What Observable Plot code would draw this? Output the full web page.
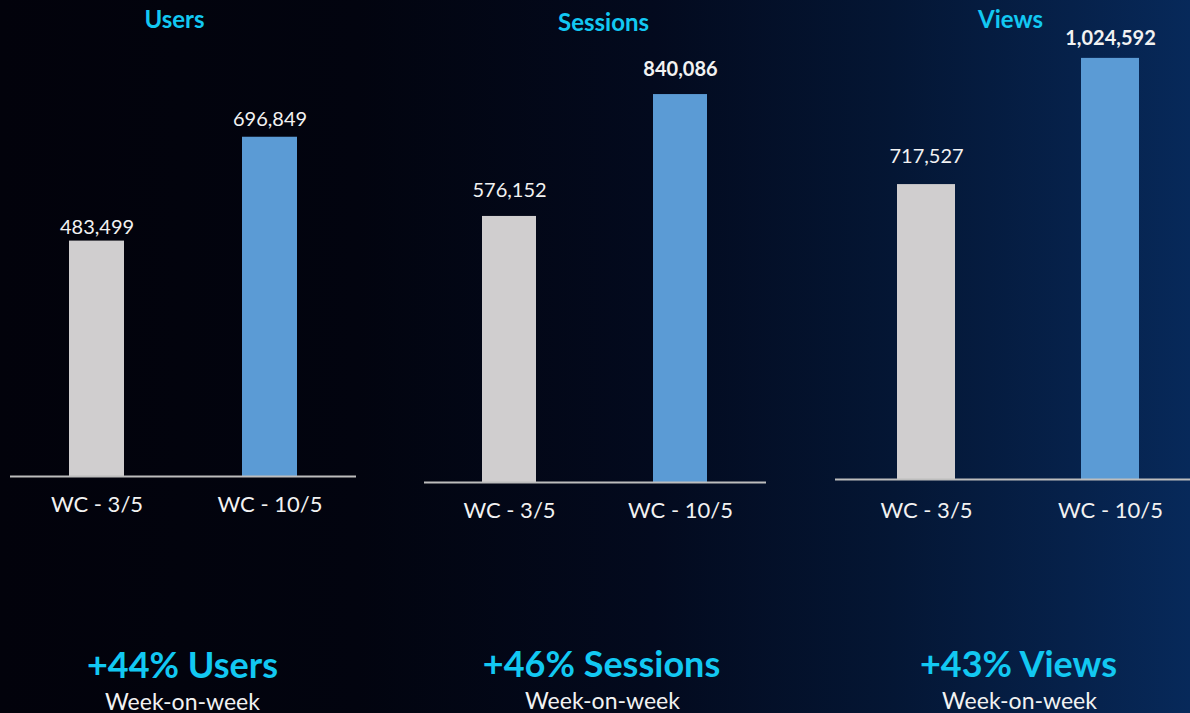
<!DOCTYPE html>
<html>
<head>
<meta charset="utf-8">
<script src="https://cdn.jsdelivr.net/npm/d3@7"></script>
<script src="https://cdn.jsdelivr.net/npm/@observablehq/plot@0.6"></script>
<style>
html, body { margin: 0; padding: 0; }
body {
  width: 1190px; height: 713px; overflow: hidden;
  background: linear-gradient(90deg, #02020b 0%, #02040f 30%, #030a1e 55%, #041634 75%, #06214a 90%, #07295a 100%);
}
#wrap { position: relative; width: 1190px; height: 713px; }
#wrap svg { position: absolute; left: 0; top: 0; }
</style>
</head>
<body>
<div id="wrap"></div>
<script>
// ---- data ----
const weeks = ["WC - 3/5", "WC - 10/5"];
const metrics = ["Users", "Sessions", "Views"];
const usersValues = [483499, 696849];
const sessionsValues = [576152, 840086];
const viewsValues = [717527, 1024592];
const growthLabels = ["+44% Users", "+46% Sessions", "+43% Views"];
const subLabel = "Week-on-week";

// ---- layout (page coordinates) ----
const W = 1190, H = 713;
const layout = [
  {values: usersValues, left: 10, right: 356, baseline: 476, yMax: 977700,
   pi: 0.682, po: 0.341, align: 0.5, gaps: [7, 11], bold: [false, false],
   titleX: 174, titleY: 27, axisPad: 19.5, growthX: 182, growthY: 677, subX: 182, subY: 709},
  {values: sessionsValues, left: 424, right: 766, baseline: 482, yMax: 1043770,
   pi: 0.684, po: 0.342, align: 0.5, gaps: [19, 19], bold: [false, true],
   titleX: 603, titleY: 30, axisPad: 19.5, growthX: 601, growthY: 676, subX: 602, subY: 708},
  {values: viewsValues, left: 835, right: 1190, baseline: 479, yMax: 1165400,
   pi: 0.685, po: 0.307, align: 0.549, gaps: [22, 13], bold: [false, true],
   titleX: 1010, titleY: 27, axisPad: 23, growthX: 1018, growthY: 676, subX: 1019, subY: 708}
];

const gray = "#d0cecf", blue = "#5b9bd5", cyan = "#12c8f2", white = "#f2f2f2";
const fmt = d3.format(",");
const wrap = document.getElementById("wrap");

layout.forEach((p, k) => {
  const table = weeks.map((w, i) => ({week: w, value: p.values[i]}));
  const frameCenter = (p.left + p.right) / 2;
  const valueMarks = table.map((d, i) => Plot.text([d], {
    x: "week", y: "value", text: r => fmt(r.value),
    lineAnchor: "bottom", dy: -p.gaps[i], fontSize: 20,
    fontWeight: p.bold[i] ? 700 : 400, fill: white
  }));
  const chart = Plot.plot({
    width: W, height: H,
    marginLeft: p.left, marginRight: W - p.right,
    marginTop: 0, marginBottom: H - p.baseline,
    style: {background: "transparent", fontFamily: "Lato, 'Open Sans', sans-serif", overflow: "visible"},
    x: {domain: weeks, paddingInner: p.pi, paddingOuter: p.po, align: p.align, label: null},
    y: {domain: [0, p.yMax], axis: null},
    color: {domain: weeks, range: [gray, blue]},
    marks: [
      Plot.barY(table, {x: "week", y: "value", fill: "week"}),
      ...valueMarks,
      Plot.ruleY([0], {stroke: "#bdbdbd", strokeWidth: 2}),
      Plot.axisX({tickSize: 0, tickPadding: p.axisPad, fontSize: 22, fill: white, label: null}),
      Plot.text([metrics[k]], {frameAnchor: "top", text: d => d, dx: p.titleX - frameCenter, dy: p.titleY,
        lineAnchor: "bottom", fontSize: 24, fontWeight: 700, fill: cyan}),
      Plot.text([growthLabels[k]], {frameAnchor: "bottom", text: d => d, dx: p.growthX - frameCenter,
        dy: p.growthY - p.baseline, lineAnchor: "bottom", fontSize: 36, fontWeight: 700, fill: cyan}),
      Plot.text([subLabel], {frameAnchor: "bottom", text: d => d, dx: p.subX - frameCenter,
        dy: p.subY - p.baseline, lineAnchor: "bottom", fontSize: 23, fill: white})
    ]
  });
  wrap.appendChild(chart);
});
</script>
</body>
</html>
